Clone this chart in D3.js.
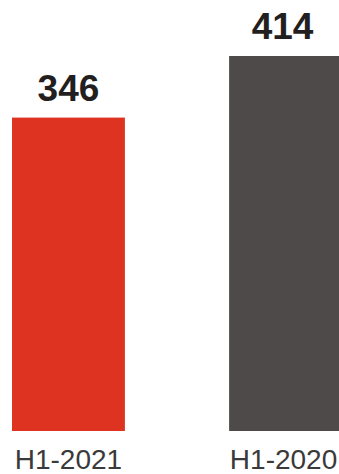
<!DOCTYPE html>
<html>
<head>
<meta charset="utf-8">
<script src="https://cdn.jsdelivr.net/npm/d3@7/dist/d3.min.js"></script>
<style>
  html, body { margin: 0; padding: 0; background: #fff; }
  svg { display: block; }
</style>
</head>
<body>
<svg id="chart" width="339" height="474"></svg>
<script>
const categories = ["H1-2021", "H1-2020"];
const values = [346, 414];
const colors = ["#DE3320", "#4F4A4A"];

const svg = d3.select("#chart");
const W = 339, H = 474;

const x = d3.scaleBand().domain(categories).range([12, 342]).paddingInner(0.48).paddingOuter(0);
const y = d3.scaleLinear().domain([0, 414]).range([431, 56]);

svg.selectAll("rect.bar")
  .data(categories)
  .join("rect")
  .attr("class", "bar")
  .attr("x", d => x(d))
  .attr("width", x.bandwidth())
  .attr("y", (d, i) => y(values[i]))
  .attr("height", (d, i) => y(0) - y(values[i]))
  .attr("fill", (d, i) => colors[i]);

svg.selectAll("text.val")
  .data(categories)
  .join("text")
  .attr("class", "val")
  .attr("x", (d, i) => x(d) + x.bandwidth() / 2 - i * 3)
  .attr("y", (d, i) => y(values[i]) - 17)
  .attr("text-anchor", "middle")
  .attr("font-family", "Liberation Sans, Arial, sans-serif")
  .attr("font-weight", "bold")
  .attr("font-size", 37)
  .attr("fill", "#231F20")
  .text((d, i) => values[i]);

const xAxis = d3.axisBottom(x).tickSize(0).tickPadding(0);
const gx = svg.append("g").attr("transform", "translate(0,449)").call(xAxis);
gx.select(".domain").remove();
gx.selectAll(".tick").attr("transform", (d, i) => `translate(${x(d) + x.bandwidth() / 2 - i * 2},0)`);
gx.selectAll("text")
  .attr("dy", "0.71em")
  .attr("font-family", "Liberation Sans, Arial, sans-serif")
  .attr("font-size", 28)
  .attr("fill", "#3a3a3a");
</script>
</body>
</html>
